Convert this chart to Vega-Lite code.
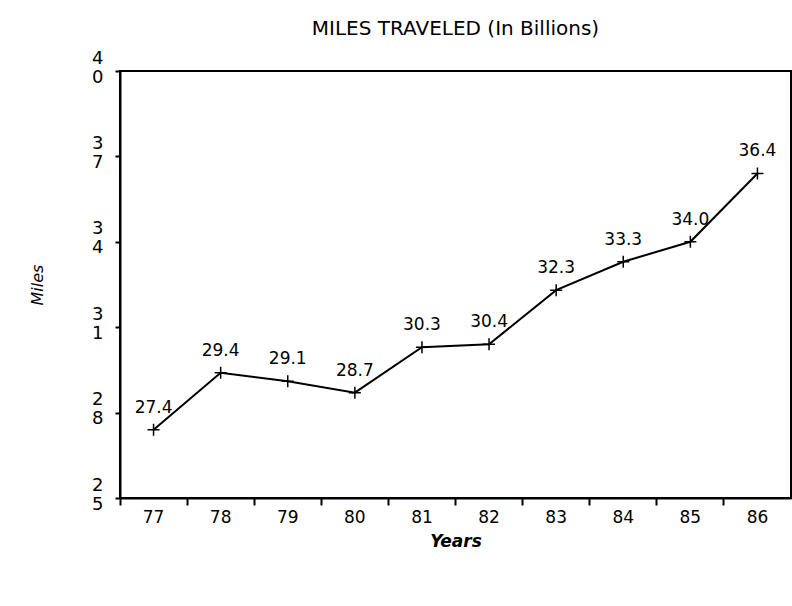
{
  "$schema": "https://vega.github.io/schema/vega-lite/v6.json",
  "width": 671,
  "height": 427,
  "autosize": {"type": "none"},
  "padding": {"left": 120, "top": 71, "right": 1, "bottom": 108},
  "background": "white",
  "title": {
    "text": "MILES TRAVELED (In Billions)",
    "font": "DejaVu Sans",
    "fontSize": 20,
    "fontWeight": "normal",
    "color": "black",
    "anchor": "middle",
    "offset": 10
  },
  "data": {
    "values": [
      {"year": "77", "miles": 27.4},
      {"year": "78", "miles": 29.4},
      {"year": "79", "miles": 29.1},
      {"year": "80", "miles": 28.7},
      {"year": "81", "miles": 30.3},
      {"year": "82", "miles": 30.4},
      {"year": "83", "miles": 32.3},
      {"year": "84", "miles": 33.3},
      {"year": "85", "miles": 34.0},
      {"year": "86", "miles": 36.4}
    ]
  },
  "encoding": {
    "x": {
      "field": "year",
      "type": "ordinal",
      "scale": {"type": "band", "paddingInner": 0, "paddingOuter": 0},
      "axis": {
        "title": "Years",
        "titleFont": "DejaVu Sans",
        "titleFontSize": 17,
        "titleFontStyle": "italic",
        "titleFontWeight": "bold",
        "titleColor": "black",
        "titlePadding": 8,
        "labelFont": "DejaVu Sans",
        "labelFontSize": 17,
        "labelColor": "black",
        "labelAngle": 0,
        "bandPosition": 0,
        "labelPadding": 4,
        "tickSize": 7,
        "tickWidth": 2,
        "tickColor": "black",
        "domainColor": "black",
        "domainWidth": 2,
        "grid": false
      }
    },
    "y": {
      "field": "miles",
      "type": "quantitative",
      "scale": {"domain": [25, 40], "nice": false, "zero": false},
      "axis": {
        "title": "Miles",
        "titleFont": "DejaVu Sans",
        "titleFontSize": 16,
        "titleFontStyle": "italic",
        "titleFontWeight": "normal",
        "titleColor": "black",
        "titlePadding": 46,
        "values": [25, 28, 31, 34, 37, 40],
        "labelExpr": "split(datum.label, '')",
        "labelFont": "DejaVu Sans",
        "labelFontSize": 18,
        "labelLineHeight": 19,
        "labelColor": "black",
        "labelPadding": 12,
        "labelBaseline": "middle",
        "labelOffset": -13,
        "tickSize": 5,
        "tickWidth": 2,
        "tickColor": "black",
        "domainColor": "black",
        "domainWidth": 2,
        "grid": false
      }
    }
  },
  "layer": [
    {"mark": {"type": "line", "color": "black", "strokeWidth": 2}},
    {
      "mark": {
        "type": "point",
        "shape": "M-1,0H1M0,-1V1",
        "size": 144,
        "filled": false,
        "stroke": "black",
        "strokeWidth": 1.5,
        "opacity": 1
      }
    },
    {
      "mark": {
        "type": "text",
        "font": "DejaVu Sans",
        "fontSize": 17,
        "color": "black",
        "dy": -22,
        "align": "center"
      },
      "encoding": {"text": {"field": "miles", "type": "quantitative", "format": ".1f"}}
    }
  ],
  "config": {
    "view": {"stroke": "black", "strokeWidth": 2}
  }
}
